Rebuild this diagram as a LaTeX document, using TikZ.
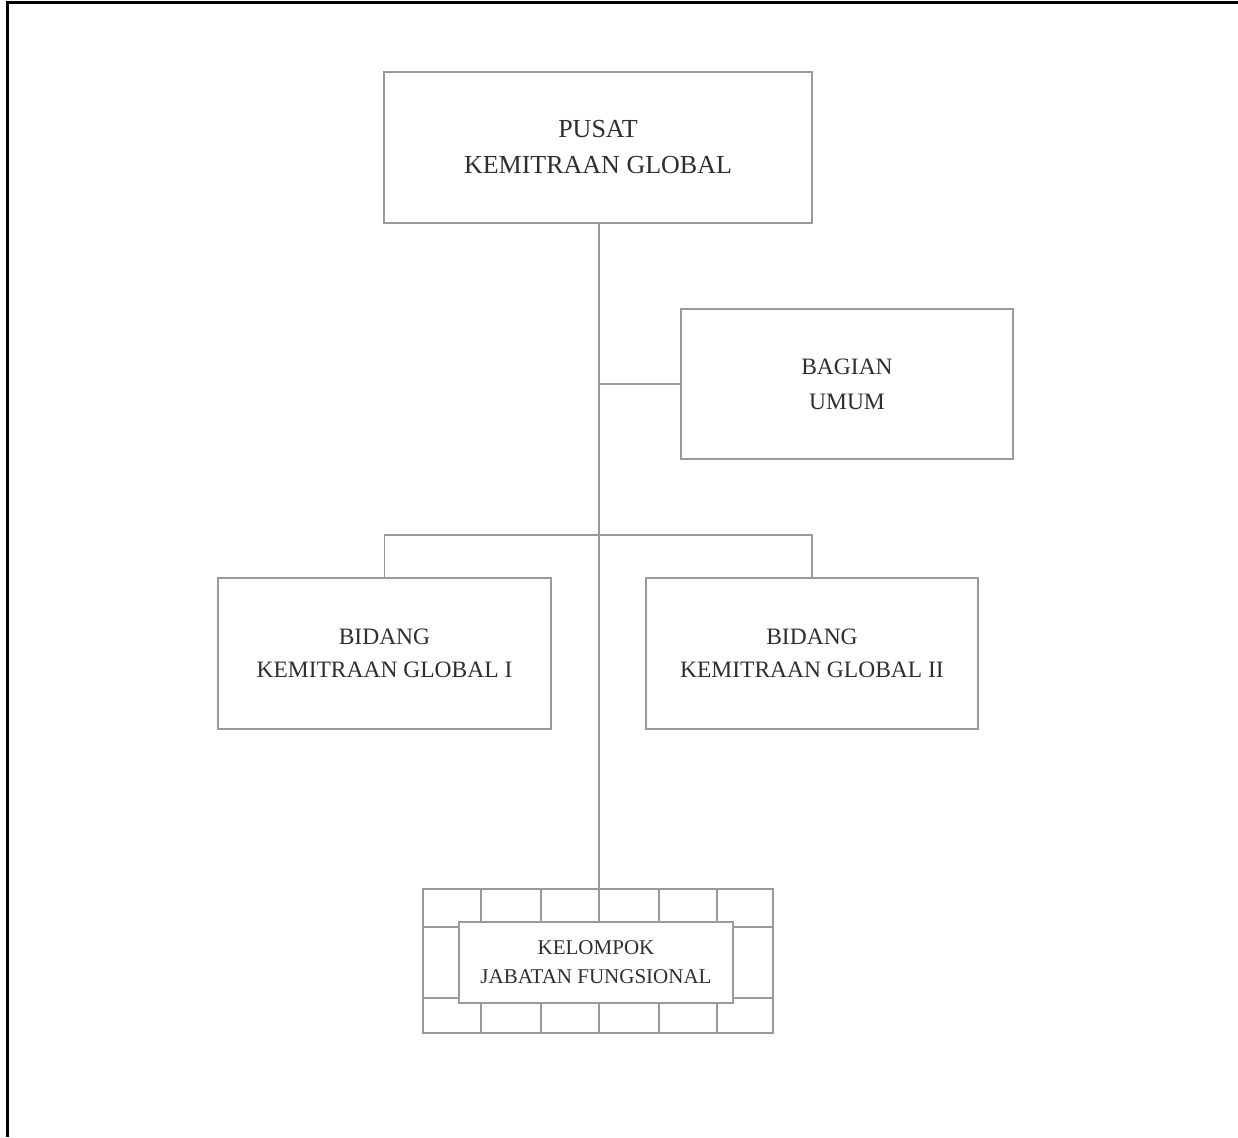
\documentclass[tikz,border=0pt]{standalone}
\usepackage{fontspec}
\setmainfont{Liberation Serif}
\begin{document}
\begin{tikzpicture}[x=1pt,y=-1pt,
  unit/.style={draw=linegray, line width=1.5pt, fill=white, rectangle, inner sep=0pt, align=center, text=textgray},
  conn/.style={draw=linegray, line width=1.5pt},
  frameline/.style={draw=black, line width=3pt}]
\definecolor{linegray}{HTML}{9A9A9A}
\definecolor{textgray}{HTML}{2E2E2E}
\useasboundingbox (0,0) rectangle (1238,1137);
\fill[white] (0,0) rectangle (1238,1137);
% outer frame (top and left)
\draw[frameline] (7,1137) -- (7,3) -- (1238,3);
% coordinates for junctions
\coordinate (j1) at (599,384);
\coordinate (j2) at (599,535);
% nodes
\node[unit, minimum width=428pt, minimum height=151pt, font=\fontsize{26}{36}\selectfont] (top) at (598,147.5) {PUSAT\\KEMITRAAN GLOBAL};
\node[unit, minimum width=332pt, minimum height=150pt, font=\fontsize{23.5}{35}\selectfont] (bag) at (847,384) {BAGIAN\\UMUM};
\node[unit, minimum width=333pt, minimum height=151pt, font=\fontsize{23.5}{33}\selectfont] (bid1) at (384.5,653.5) {BIDANG\\KEMITRAAN GLOBAL I};
\node[unit, minimum width=332pt, minimum height=151pt, font=\fontsize{23.5}{33}\selectfont] (bid2) at (812,653.5) {BIDANG\\KEMITRAAN GLOBAL II};
\node[unit, minimum width=350pt, minimum height=144pt] (grid) at (598,961) {};
% grid lines in the functional group box
\foreach \gx in {481,541,599,659,717}{
  \draw[conn] (\gx,889) -- (\gx,922);
  \draw[conn] (\gx,1003) -- (\gx,1033);
}
\draw[conn] (423,927) -- (459,927);
\draw[conn] (423,998) -- (459,998);
\draw[conn] (733,927) -- (773,927);
\draw[conn] (733,998) -- (773,998);
\node[unit, minimum width=274pt, minimum height=81pt, font=\fontsize{21}{29}\selectfont] (kel) at (596,962.5) {KELOMPOK\\JABATAN FUNGSIONAL};
% connectors
\draw[conn] (top.south -| j1) -- (j1) -- (j2) -- (grid.north -| j1);
\draw[conn] (j1) -- (bag.west);
\draw[conn] (bid1.north) |- (j2) -| (bid2.north);
\end{tikzpicture}
\end{document}
